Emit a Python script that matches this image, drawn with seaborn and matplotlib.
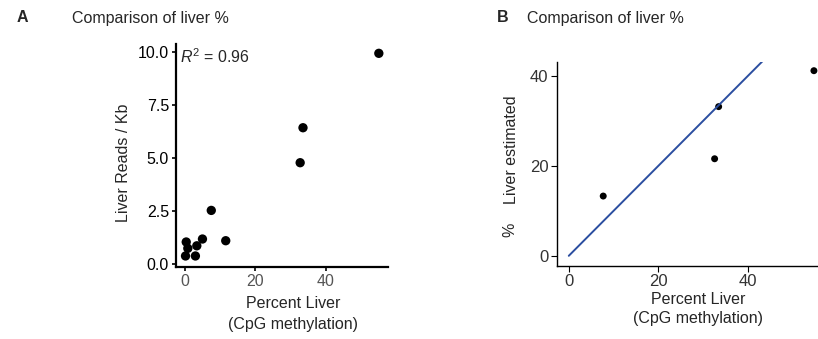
import matplotlib
matplotlib.use("Agg")
import matplotlib.pyplot as plt
import seaborn as sns
import pandas as pd

# Panel A data
a_x = [55.0, 33.5, 32.7, 7.5, 11.6, 5.0, 3.4, 0.4, 0.85, 0.2, 3.0]
a_y = [9.94, 6.43, 4.78, 2.53, 1.10, 1.18, 0.86, 1.04, 0.74, 0.38, 0.38]
# Panel B data
b_x = [7.7, 33.5, 32.6, 54.8]
b_y = [13.3, 33.2, 21.6, 41.2]
line_x = [0, 100]
line_y = [0, 100]

a_yticks = [0.0, 2.5, 5.0, 7.5, 10.0]
a_xticks = [0, 20, 40]
b_ticks = [0, 20, 40]

sns.set_style("white")
plt.rcParams['font.family'] = ['Liberation Sans', 'DejaVu Sans']
plt.rcParams['mathtext.fontset'] = 'custom'
plt.rcParams['mathtext.rm'] = 'Liberation Sans'
plt.rcParams['mathtext.it'] = 'Liberation Sans:italic'

W, H = 818, 339
FS = 11.5
fig = plt.figure(figsize=(W / 100, H / 100), dpi=100)

def ax_rect(l, r, t, b):
    return [l / W, 1 - b / H, (r - l) / W, (b - t) / H]

dfa = pd.DataFrame({"x": a_x, "y": a_y})
axA = fig.add_axes(ax_rect(176, 388, 44, 267))
sns.scatterplot(data=dfa, x="x", y="y", ax=axA, color="black", s=45,
                edgecolor="none", legend=False)
axA.set_xlim(-2.5, 57.6)
axA.set_ylim(-0.14, 10.38)
axA.set_xticks(a_xticks)
axA.set_yticks(a_yticks)
axA.set_yticklabels([f"{v:.1f}" for v in a_yticks])
axA.set_xlabel("")
axA.set_ylabel("")
for s in ["top", "right"]:
    axA.spines[s].set_visible(False)
for s in ["left", "bottom"]:
    axA.spines[s].set_linewidth(1.6)
    axA.spines[s].set_color("black")
axA.tick_params(axis="both", which="major", length=3, width=1.2, color="black",
                labelsize=FS, pad=2, bottom=True, left=True)
axA.tick_params(axis="x", labelcolor="#555555")
axA.tick_params(axis="y", labelcolor="black")
axA.text(0.02, 0.985, r"$\mathit{R}^{2}$ = 0.96", transform=axA.transAxes,
         ha="left", va="top", fontsize=FS)

dfb = pd.DataFrame({"x": b_x, "y": b_y})
dfl = pd.DataFrame({"x": line_x, "y": line_y})
axB = fig.add_axes(ax_rect(556.7, 826, 61.7, 265.7))
sns.lineplot(data=dfl, x="x", y="y", ax=axB, color="#2b4ea0", linewidth=1.4)
sns.scatterplot(data=dfb, x="x", y="y", ax=axB, color="black", s=25,
                edgecolor="none", legend=False, clip_on=False)
axB.set_xlim(-2.7, 57.5)
axB.set_ylim(-2.2, 43.2)
axB.set_xticks(b_ticks)
axB.set_yticks(b_ticks)
axB.set_xlabel("")
axB.set_ylabel("")
for s in ["top", "right"]:
    axB.spines[s].set_visible(False)
for s in ["left", "bottom"]:
    axB.spines[s].set_linewidth(1.0)
    axB.spines[s].set_color("black")
axB.tick_params(axis="both", which="major", length=4, width=0.8, color="black",
                labelsize=12, labelcolor="#333333", pad=2, bottom=True, left=True)

# Titles and labels
fig.text(17 / W, 1 - 18 / H, "A", fontsize=FS, fontweight="bold", va="center", ha="left")
fig.text(72 / W, 1 - 19 / H, "Comparison of liver %", fontsize=FS, va="center", ha="left")
fig.text(497 / W, 1 - 17 / H, "B", fontsize=FS, fontweight="bold", va="center", ha="left")
fig.text(527 / W, 1 - 19 / H, "Comparison of liver %", fontsize=FS, va="center", ha="left")

fig.text(123 / W, 1 - 163 / H, "Liver Reads / Kb", rotation=90, fontsize=FS,
         va="center", ha="center")
fig.text(293 / W, 1 - 304 / H, "Percent Liver", fontsize=FS, va="center", ha="center")
fig.text(293 / W, 1 - 324 / H, "(CpG methylation)", fontsize=FS, va="center", ha="center")

fig.text(512 / W, 1 - 150 / H, "Liver estimated", rotation=90, fontsize=FS,
         va="center", ha="center")
fig.text(510 / W, 1 - 230 / H, "%", rotation=90, fontsize=FS, va="center", ha="center")
fig.text(698 / W, 1 - 299 / H, "Percent Liver", fontsize=FS, va="center", ha="center")
fig.text(698 / W, 1 - 318 / H, "(CpG methylation)", fontsize=FS, va="center", ha="center")

fig.savefig("out.png", dpi=100)
